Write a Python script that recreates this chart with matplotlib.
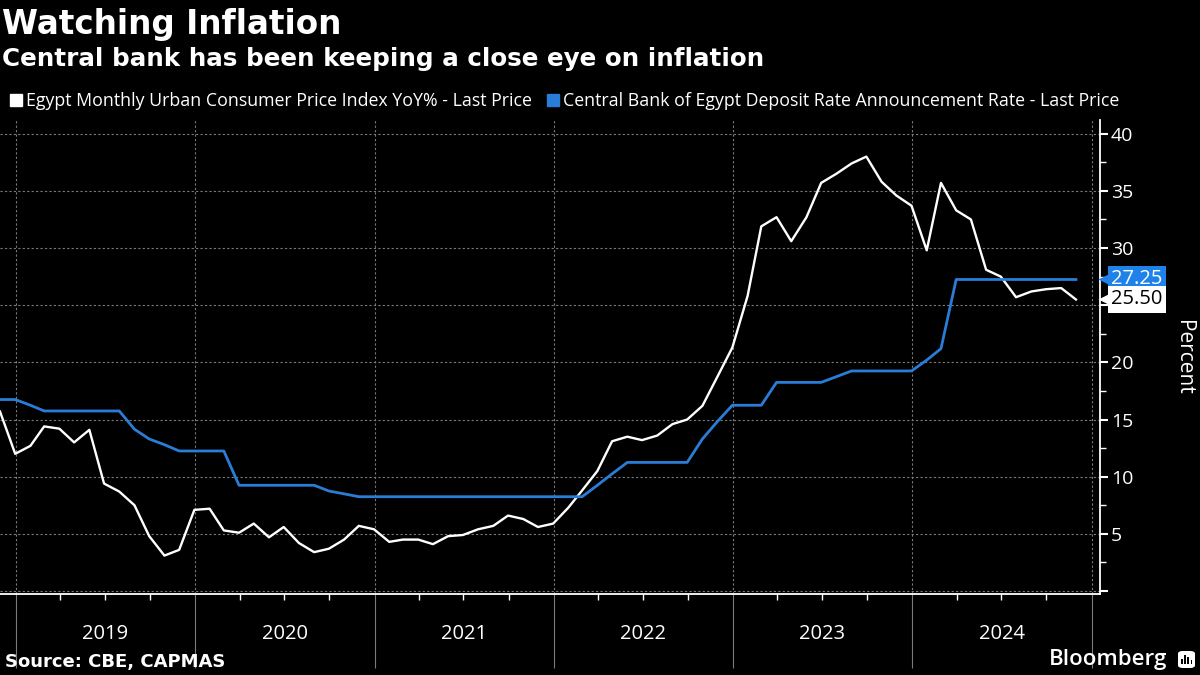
import numpy as np
import pandas as pd
import matplotlib
matplotlib.use("Agg")
import matplotlib.pyplot as plt
import matplotlib.dates as mdates
import matplotlib.transforms as mtransforms
from matplotlib.lines import Line2D
from matplotlib.patches import FancyBboxPatch, Rectangle
from matplotlib.ticker import MultipleLocator, FuncFormatter

plt.rcParams['font.family'] = ['Open Sans', 'DejaVu Sans']

# monthly data, Nov 2018 - Nov 2024 (plotted at month end)
dates = pd.date_range('2018-11-30', periods=73, freq='ME')

cpi = [15.7, 12.0,
       12.7, 14.4, 14.2, 13.0, 14.1, 9.4, 8.7, 7.5, 4.8, 3.1, 3.6, 7.1,
       7.2, 5.3, 5.1, 5.9, 4.7, 5.6, 4.2, 3.4, 3.7, 4.5, 5.7, 5.4,
       4.3, 4.5, 4.5, 4.1, 4.8, 4.9, 5.4, 5.7, 6.6, 6.3, 5.6, 5.9,
       7.3, 8.8, 10.5, 13.1, 13.5, 13.2, 13.6, 14.6, 15.0, 16.2, 18.7, 21.3,
       25.8, 31.9, 32.7, 30.6, 32.7, 35.7, 36.5, 37.4, 38.0, 35.8, 34.6, 33.7,
       29.8, 35.7, 33.3, 32.5, 28.1, 27.5, 25.7, 26.2, 26.4, 26.5, 25.5]

deposit = [16.75, 16.75,
           16.25, 15.75, 15.75, 15.75, 15.75, 15.75, 15.75, 14.15, 13.3, 12.8, 12.25, 12.25,
           12.25, 12.25, 9.25, 9.25, 9.25, 9.25, 9.25, 9.25, 8.75, 8.5, 8.25, 8.25,
           8.25, 8.25, 8.25, 8.25, 8.25, 8.25, 8.25, 8.25, 8.25, 8.25, 8.25, 8.25,
           8.25, 8.25, 9.25, 10.25, 11.25, 11.25, 11.25, 11.25, 11.25, 13.3, 14.8, 16.25,
           16.25, 16.25, 18.25, 18.25, 18.25, 18.25, 18.75, 19.25, 19.25, 19.25, 19.25, 19.25,
           20.2, 21.2, 27.25, 27.25, 27.25, 27.25, 27.25, 27.25, 27.25, 27.25, 27.25]

years = [2019, 2020, 2021, 2022, 2023, 2024]
cpi_label = 'Egypt Monthly Urban Consumer Price Index YoY% - Last Price'
rate_label = 'Central Bank of Egypt Deposit Rate Announcement Rate - Last Price'

WHITE = '#ffffff'
BLUE = '#2a7dd6'
GRID = '#7a7a7a'
BOLD = ['DejaVu Sans']

fig = plt.figure(figsize=(12, 6.75), dpi=100, facecolor='black')
ax = fig.add_axes([0, 1 - 594 / 675, 1100 / 1200, (594 - 120) / 675])
ax.set_facecolor('black')

ax.plot(dates, cpi, color=WHITE, lw=1.7, zorder=3)
ax.plot(dates, deposit, color=BLUE, lw=2.0, zorder=4)

ax.set_xlim(pd.Timestamp('2018-11-30'), pd.Timestamp('2025-01-18'))
ax.set_ylim(-0.26, 41.2)

for s in ['left', 'top']:
    ax.spines[s].set_visible(False)
for s in ['right', 'bottom']:
    ax.spines[s].set_color(WHITE)
    ax.spines[s].set_linewidth(1.3)

# x axis: long year separators, quarterly small ticks
ax.xaxis.set_major_locator(mdates.YearLocator())
ax.xaxis.set_minor_locator(mdates.MonthLocator(bymonth=[4, 7, 10]))
ax.tick_params(axis='x', which='major', length=53, color=GRID, width=0.8,
               labelbottom=False)
ax.tick_params(axis='x', which='minor', length=4, color=WHITE, width=1)
for yr in years:
    ax.text(pd.Timestamp(f'{yr}-07-02'), -0.084, str(yr),
            transform=ax.get_xaxis_transform(), ha='center', va='center',
            color=WHITE, fontsize=14.5)

# y axis on the right; the label hidden under the last-value tag is left out
def ytick_fmt(v, p):
    if v < 1 or abs(v - cpi[-1]) < 1.5:
        return ''
    return f'{v:.0f}'

ax.yaxis.tick_right()
ax.yaxis.set_major_locator(MultipleLocator(5))
ax.yaxis.set_minor_locator(MultipleLocator(2.5))
ax.yaxis.set_major_formatter(FuncFormatter(ytick_fmt))
ax.tick_params(axis='y', which='major', length=6, width=1.5, colors=WHITE,
               labelsize=14, pad=2)
ax.tick_params(axis='y', which='minor', length=4, width=1, colors=WHITE)

ax.grid(which='major', color=GRID, lw=0.8, ls=(0, (2, 2)))
ax.set_axisbelow(True)

# last value tags (white tag drawn over the blue one)
blend = mtransforms.blended_transform_factory(ax.transAxes, ax.transData)
arrow_tr = mtransforms.offset_copy(blend, fig=fig, x=7, y=0, units='dots')
for k, (val, fc, tc) in enumerate([(deposit[-1], '#1f82e8', WHITE), (cpi[-1], WHITE, 'black')]):
    ax.annotate(f'{val:.2f}', xy=(1, val), xycoords=blend,
                xytext=(8, 0), textcoords='offset points', ha='left', va='center',
                fontsize=14.5, color=tc, annotation_clip=False, zorder=7 + 2 * k,
                bbox=dict(boxstyle='square,pad=0.16', fc=fc, ec='none'))
    ax.plot([1.0], [val], marker='<', ms=13, color=fc, mec='none',
            transform=arrow_tr, clip_on=False, zorder=6 + 2 * k)

fig.text(1183 / 1200, 1 - 357 / 675, 'Percent', rotation=270, ha='center',
         va='center', color=WHITE, fontsize=15)

# titles and legend
fig.text(0.002, 1 - 8 / 675, 'Watching Inflation', ha='left', va='top',
         color=WHITE, fontsize=23.5, weight='bold', family=BOLD)
fig.text(0.002, 1 - 47 / 675, 'Central bank has been keeping a close eye on inflation',
         ha='left', va='top', color=WHITE, fontsize=17.7, weight='bold', family=BOLD)

handles = [Line2D([], [], marker='s', ls='none', color=WHITE, ms=9),
           Line2D([], [], marker='s', ls='none', color=BLUE, ms=9)]
fig.legend(handles, [cpi_label, rate_label], loc='center left',
           bbox_to_anchor=(0.006, 1 - 101 / 675), ncol=2, frameon=False,
           handlelength=0.6, handletextpad=0.25, columnspacing=0.9,
           borderaxespad=0, borderpad=0.2, fontsize=12.8, labelcolor=WHITE)

fig.text(0.004, 1 - 662 / 675, 'Source: CBE, CAPMAS', ha='left', va='center',
         color=WHITE, fontsize=13, weight='bold', family=BOLD)
fig.text(1167 / 1200, 1 - 660 / 675, 'Bloomberg', ha='right', va='center',
         color=WHITE, fontsize=16, weight='semibold')

# small Bloomberg icon
W, H = 1200, 675
fig.patches.append(FancyBboxPatch((1178 / W, 1 - 668 / H), 17 / W, 17 / H,
                                  boxstyle='round,pad=0,rounding_size=0.004',
                                  transform=fig.transFigure, fc=WHITE, ec='none'))
for i, h in enumerate([5, 9, 7, 4]):
    fig.patches.append(Rectangle(((1181 + i * 3.2) / W, 1 - 664 / H), 1.8 / W, h / H,
                                 transform=fig.transFigure, fc='black', ec='none'))

fig.savefig('out.png', dpi=100, facecolor='black')
